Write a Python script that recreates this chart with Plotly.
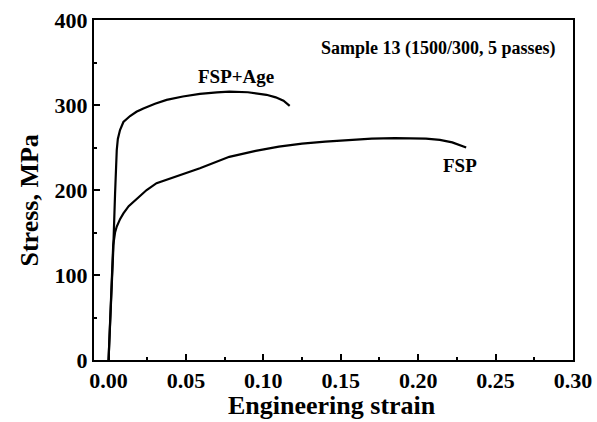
import plotly.graph_objects as go

# FSP + Age curve (engineering strain, stress MPa)
age_strain = [0.0, 0.0015, 0.003, 0.0042, 0.0048, 0.0053, 0.006, 0.0074, 0.0096, 0.0139,
              0.018, 0.0225, 0.030, 0.0375, 0.048, 0.059, 0.070, 0.078, 0.090, 0.097,
              0.102, 0.108, 0.113, 0.117]
age_stress = [0, 62, 128, 195, 228, 247, 260, 270.5, 280, 287,
              292, 296, 301.5, 306, 310, 313, 314.8, 315.7, 315, 313.5,
              312, 309, 305, 299]

# FSP curve
fsp_strain = [0.0, 0.0015, 0.003, 0.0042, 0.0053, 0.0075, 0.0096, 0.013, 0.016, 0.020, 0.0246,
              0.031, 0.044, 0.059, 0.078, 0.095, 0.110, 0.125, 0.140, 0.154, 0.170, 0.185,
              0.195, 0.205, 0.214, 0.222, 0.231]
fsp_stress = [0, 68, 135, 150, 157, 166, 172.5, 181, 186, 193, 200,
              208, 216, 225.5, 239, 246, 251, 254.5, 257, 259, 260.5, 261,
              261, 260.5, 259, 256, 250]

x_ticks = [0.00, 0.05, 0.10, 0.15, 0.20, 0.25, 0.30]
y_ticks = [0, 100, 200, 300, 400]

FONT = "Liberation Serif"

fig = go.Figure()
fig.add_trace(go.Scatter(x=age_strain, y=age_stress, mode="lines", line=dict(color="black", width=2.2), name="FSP+Age"))
fig.add_trace(go.Scatter(x=fsp_strain, y=fsp_stress, mode="lines", line=dict(color="black", width=2.2), name="FSP"))

fig.add_annotation(x=0.213, y=367, text="Sample 13 (1500/300, 5 passes)", showarrow=False,
                   font=dict(family=FONT, size=18, color="black", weight="bold"))
fig.add_annotation(x=0.0823, y=334, text="FSP+Age", showarrow=False,
                   font=dict(family=FONT, size=19, color="black", weight="bold"))
fig.add_annotation(x=0.2268, y=229, text="FSP", showarrow=False,
                   font=dict(family=FONT, size=19, color="black", weight="bold"))

# axis titles
fig.add_annotation(xref="paper", yref="paper", x=0.497, y=0, yanchor="middle", yshift=-45,
                   text="Engineering strain", showarrow=False,
                   font=dict(family=FONT, size=26, color="black", weight="bold"))
fig.add_annotation(xref="paper", yref="paper", x=0, y=0.469, xanchor="center", xshift=-64,
                   text="Stress, MPa", textangle=-90, showarrow=False,
                   font=dict(family=FONT, size=26, color="black", weight="bold"))

fig.update_layout(
    width=597, height=422,
    margin=dict(l=94, r=24, t=20, b=62, autoexpand=False),
    paper_bgcolor="white", plot_bgcolor="white",
    showlegend=False,
    font=dict(family=FONT, color="black"),
)
fig.update_xaxes(
    range=[-0.0094, 0.30], automargin=False, ticklabeloverflow="allow",
    tickvals=x_ticks, ticktext=[f"{v:.2f}" for v in x_ticks],
    ticks="inside", ticklen=6, tickwidth=2, tickcolor="black",
    minor=dict(ticks="inside", ticklen=3, tickwidth=2, tickcolor="black", tick0=0.025, dtick=0.05),
    showline=True, linewidth=2, linecolor="black", mirror=True,
    showgrid=False, zeroline=False,
    tickfont=dict(family=FONT, size=22, color="black", weight="bold"),
)
fig.update_yaxes(
    range=[0, 400], automargin=False, ticklabeloverflow="allow",
    tickvals=y_ticks, ticktext=[str(v) for v in y_ticks],
    ticks="inside", ticklen=6, tickwidth=2, tickcolor="black",
    minor=dict(ticks="inside", ticklen=3, tickwidth=2, tickcolor="black", tick0=50, dtick=100),
    showline=True, linewidth=2, linecolor="black", mirror=True,
    showgrid=False, zeroline=False,
    tickfont=dict(family=FONT, size=22, color="black", weight="bold"),
)

# remove the default page margin so the 597x422 figure fills the window exactly
fig.write_html("out.html", config={"displayModeBar": False},
               post_script="document.body.style.margin='0';document.body.style.overflow='hidden';")
